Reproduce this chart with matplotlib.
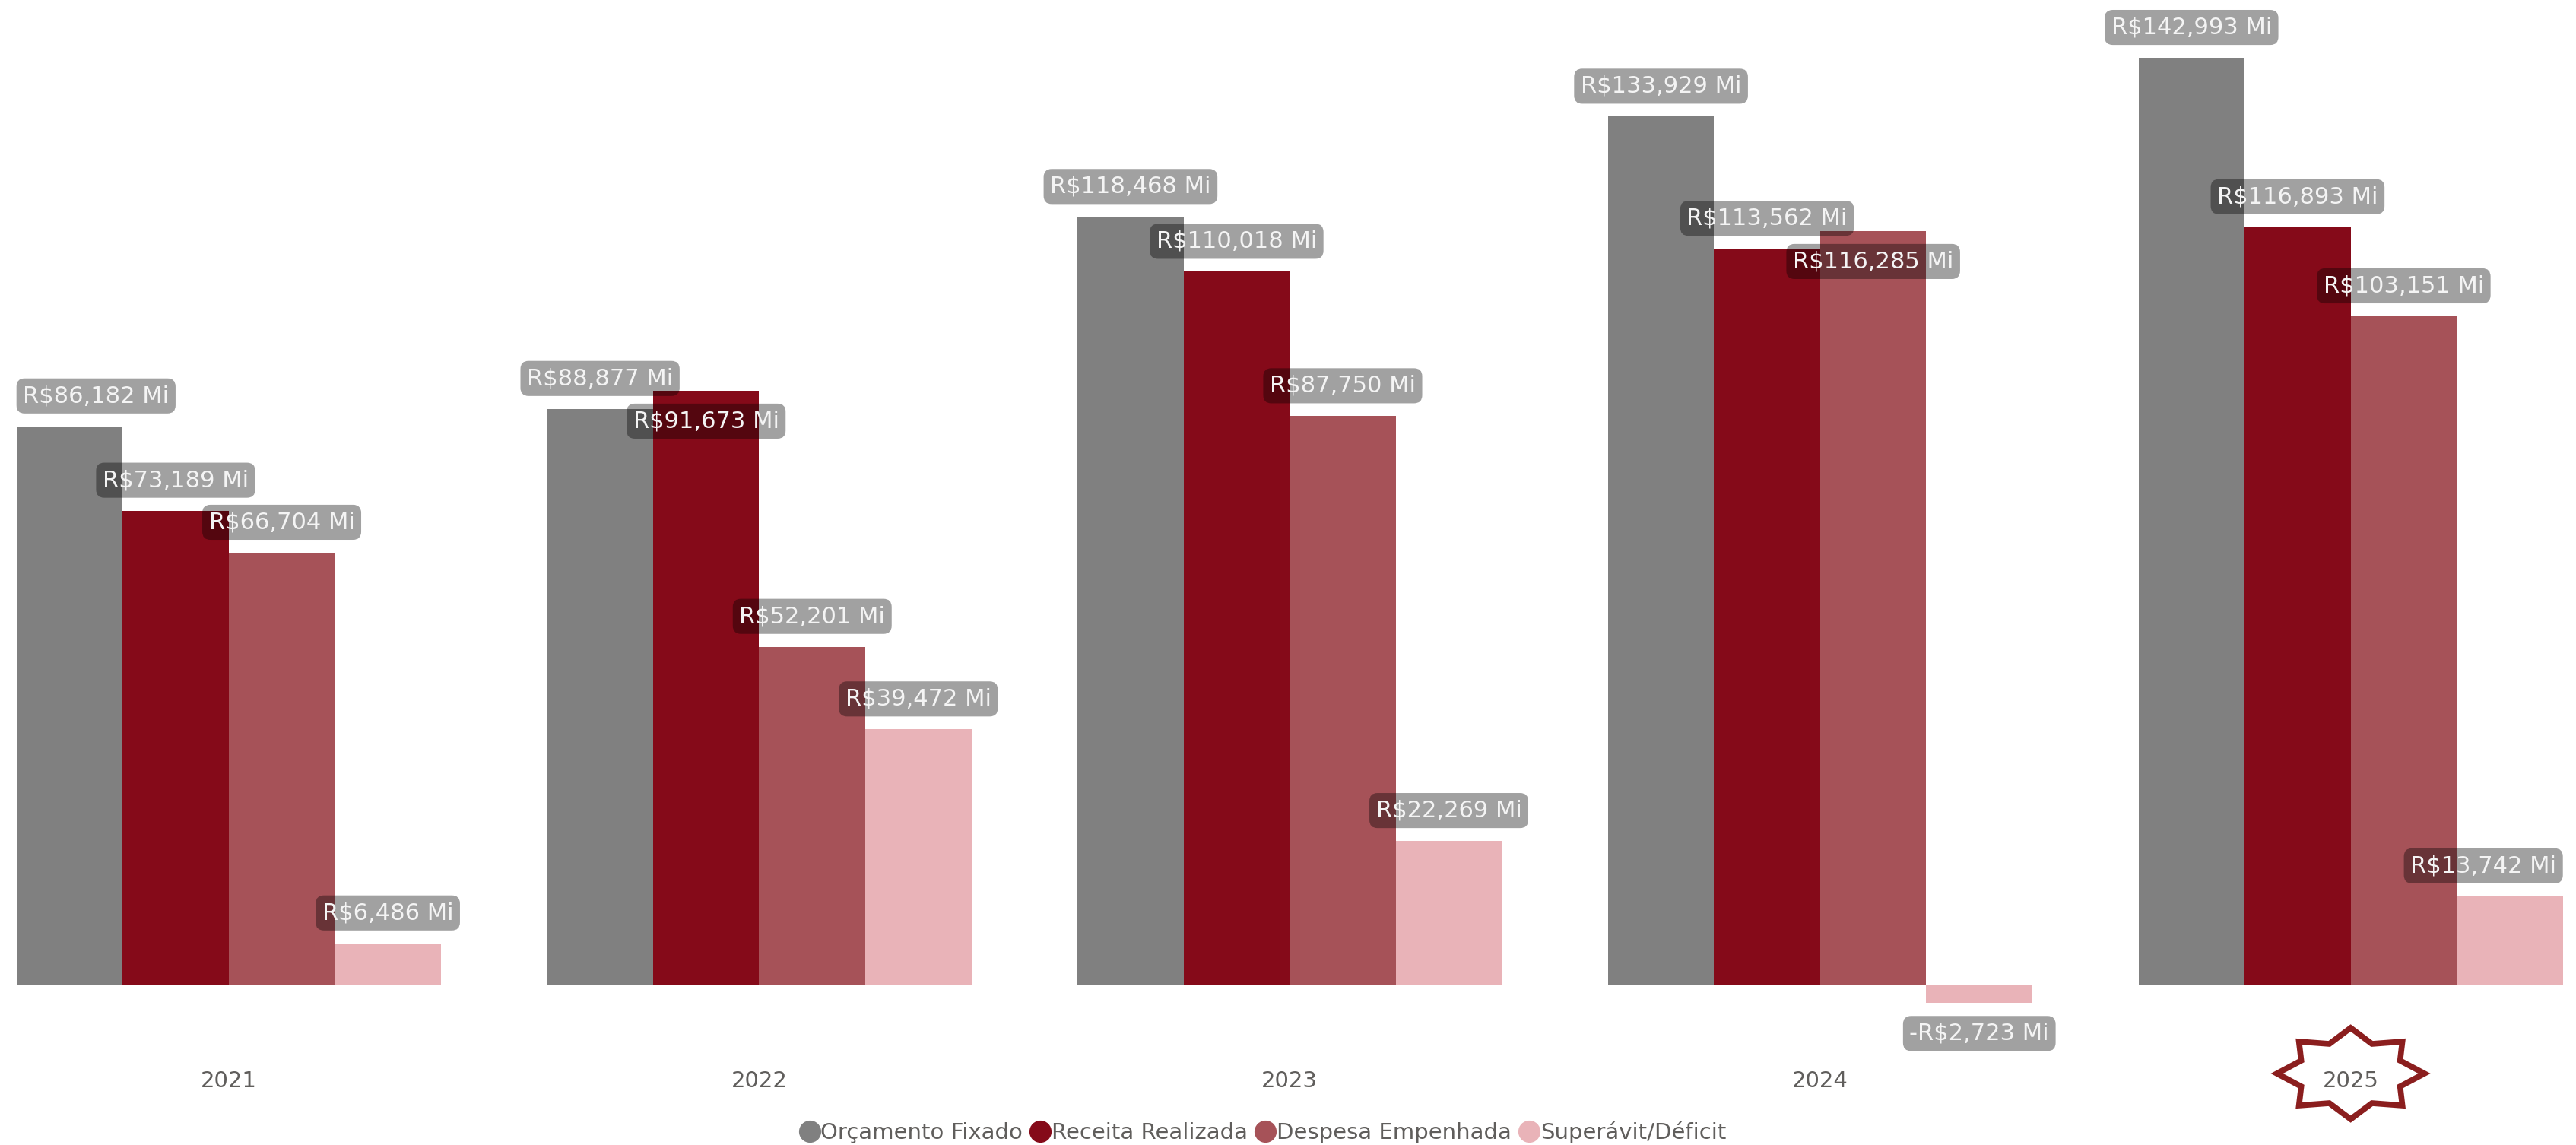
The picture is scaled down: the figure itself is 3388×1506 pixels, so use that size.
import matplotlib
matplotlib.use('Agg')
import matplotlib.pyplot as plt
import numpy as np
from matplotlib.lines import Line2D
from matplotlib.patches import Polygon
from matplotlib.transforms import IdentityTransform

# data (R$ milhões)
years = ['2021', '2022', '2023', '2024', '2025']
orcamento = [86182, 88877, 118468, 133929, 142993]
receita = [73189, 91673, 110018, 113562, 116893]
despesa = [66704, 52201, 87750, 116285, 103151]
saldo = [6486, 39472, 22269, -2723, 13742]

series_names = ['Orçamento Fixado', 'Receita Realizada', 'Despesa Empenhada', 'Superávit/Déficit']
series_vals = [orcamento, receita, despesa, saldo]
colors = ['#808080', '#850A19', '#A65258', '#E9B3B8']

# labels that sit inside the bar top (they would collide otherwise)
inside = {(1, 1), (3, 2)}


def fmt(v):
    s = f"R${abs(v):,.0f} Mi"
    return '-' + s if v < 0 else s


fig = plt.figure(figsize=(33.88, 15.06), dpi=100)
ax = fig.add_axes([0.0064, 0.0714, 0.9885, 0.9178])

x = np.arange(len(years))
width = 0.2
offs = [-0.3, -0.1, 0.1, 0.3]

for name, vals, c, off in zip(series_names, series_vals, colors, offs):
    ax.bar(x + off, vals, width, color=c, label=name, zorder=1)

ax.set_xlim(-0.4, 4.4)
ax.set_ylim(-12000, 150000)
for s in ax.spines.values():
    s.set_visible(False)
ax.set_yticks([])
ax.set_xticks(x, years)
ax.tick_params(axis='x', length=0, pad=7, labelsize=21, labelcolor='#605E5C')

# data labels
labels = []
for si, vals in enumerate(series_vals):
    for i, v in enumerate(vals):
        if v < 0 or (i, si) in inside:
            dy = -40
        else:
            dy = 40
        t = ax.annotate(fmt(v), (x[i] + offs[si], v), xytext=(0, dy),
                        textcoords='offset pixels', ha='center', va='center',
                        fontsize=22, color='#F4F4F4', zorder=5,
                        annotation_clip=False,
                        bbox=dict(boxstyle='round,pad=0.28,rounding_size=0.35',
                                  fc=(0, 0, 0, 0.37), ec='none'))
        labels.append((t, dy))

# keep labels inside the plot area like Power BI does
fig.canvas.draw()
renderer = fig.canvas.get_renderer()
axbb = ax.get_window_extent(renderer)
for t, dy in labels:
    bb = t.get_bbox_patch().get_window_extent(renderer)
    shift = 0
    if bb.x0 < axbb.x0:
        shift = axbb.x0 - bb.x0
    elif bb.x1 > axbb.x1:
        shift = axbb.x1 - bb.x1
    t.xyann = (shift, dy)

# star highlight around 2025
cx = ax.transData.transform((4, 0))[0]
cy = 1506 - 1412
star = np.array([(0, 60), (28, 39), (68, 42), (65, 17), (97, 0), (65, -17),
                 (68, -42), (28, -39), (0, -60), (-28, -39), (-68, -42), (-65, -17),
                 (-97, 0), (-65, 17), (-68, 42), (-28, 39)], dtype=float)
star[:, 0] += cx
star[:, 1] += cy
fig.add_artist(Polygon(star, closed=True, fill=False, ec='#8B1E1E', lw=5.5,
                       transform=IdentityTransform()))

# legend
handles = [Line2D([], [], marker='o', ls='', color=c, markersize=20) for c in colors]
fig.legend(handles, series_names, loc='center', bbox_to_anchor=(0.49, 0.0113),
           ncol=4, frameon=False, fontsize=21, handletextpad=0.0,
           handlelength=1.0, columnspacing=0.3, labelcolor='#605E5C',
           borderaxespad=0, borderpad=0)

fig.savefig('out.png', dpi=100)
